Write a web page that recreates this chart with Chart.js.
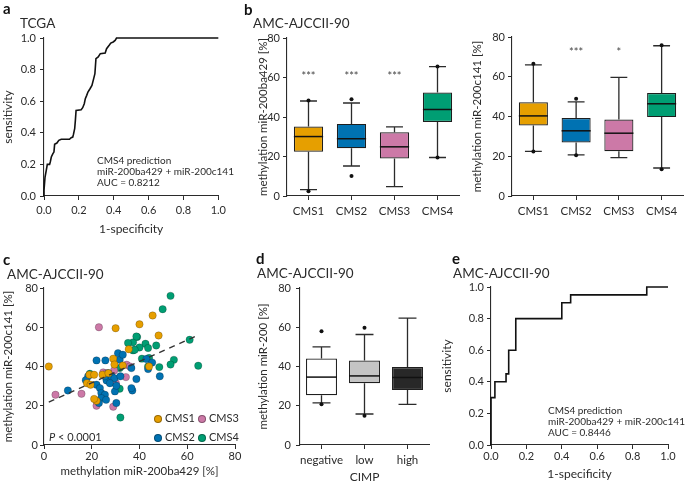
<!DOCTYPE html>
<html>
<head>
<meta charset="utf-8">
<script src="https://cdn.jsdelivr.net/npm/chart.js@4.4.1/dist/chart.umd.min.js"></script>
<style>
  html, body { margin: 0; padding: 0; background: #fff; }
  #fig { position: relative; width: 685px; height: 485px; overflow: hidden;
         font-family: Lato, "DejaVu Sans", sans-serif; color: #2b2b2b; }
  canvas { position: absolute; }
  .t { position: absolute; white-space: nowrap; line-height: 1.2; }
  .lt { font-weight: bold; font-size: 15px; color: #111; }
  .ttl { font-size: 13.5px; }
  .ann { font-size: 10px; line-height: 11px; }
  .leg { font-size: 11px; }
  .dot { display: inline-block; width: 8px; height: 8px; border-radius: 50%;
         margin-right: 3px; vertical-align: -0.5px; box-sizing: border-box; border: 0.6px solid rgba(0,0,0,0.35); }
</style>
</head>
<body>
<div id="fig">
  <canvas id="cA" width="230" height="245" style="left:0;top:0"></canvas>
  <canvas id="cB1" width="230" height="245" style="left:230px;top:0"></canvas>
  <canvas id="cB2" width="225" height="245" style="left:460px;top:0"></canvas>
  <canvas id="cC" width="245" height="240" style="left:0;top:245px"></canvas>
  <canvas id="cD" width="195" height="240" style="left:245px;top:245px"></canvas>
  <canvas id="cE" width="247" height="240" style="left:438px;top:245px"></canvas>

  <div class="t lt" style="left:3px;top:-1px">a</div>
  <div class="t ttl" style="left:20px;top:15px">TCGA</div>
  <div class="t ann" style="left:97px;top:155px">CMS4 prediction<br>miR-200ba429 + miR-200c141<br>AUC = 0.8212</div>

  <div class="t lt" style="left:244px;top:0px">b</div>
  <div class="t ttl" style="left:253px;top:15px">AMC-AJCCII-90</div>

  <div class="t lt" style="left:3px;top:250px">c</div>
  <div class="t ttl" style="left:7px;top:266px">AMC-AJCCII-90</div>
  <div class="t leg" style="left:49px;top:430px"><i>P</i> &lt; 0.0001</div>
  <div class="t leg" style="left:154px;top:411px"><span class="dot" style="background:#E69F00"></span>CMS1</div>
  <div class="t leg" style="left:198px;top:411px"><span class="dot" style="background:#CC79A7"></span>CMS3</div>
  <div class="t leg" style="left:154px;top:430px"><span class="dot" style="background:#0072B2"></span>CMS2</div>
  <div class="t leg" style="left:198px;top:430px"><span class="dot" style="background:#009E73"></span>CMS4</div>

  <div class="t lt" style="left:256px;top:249px">d</div>
  <div class="t ttl" style="left:257px;top:265px">AMC-AJCCII-90</div>

  <div class="t lt" style="left:452px;top:249px">e</div>
  <div class="t ttl" style="left:453px;top:265px">AMC-AJCCII-90</div>
  <div class="t ann" style="left:548px;top:405px">CMS4 prediction<br>miR-200ba429 + miR-200c141<br>AUC = 0.8446</div>
</div>

<script>
// ---- data ----
const rocTicks = [0, 0.2, 0.4, 0.6, 0.8, 1.0];
const pctTicks = [0, 20, 40, 60, 80];

// a: TCGA ROC
const rocTcgaX = [0,0,0.006,0.013,0.019,0.032,0.036,0.042,0.051,0.057,0.061,0.074,0.085,0.099,0.146,0.156,0.165,0.169,0.176,0.18,0.184,0.213,0.222,0.231,0.237,0.245,0.252,0.264,0.275,0.285,0.292,0.298,0.311,0.323,0.351,0.359,0.374,0.383,0.397,0.408,0.416,1];
const rocTcgaY = [0,0.036,0.12,0.162,0.2,0.2,0.215,0.247,0.268,0.278,0.327,0.335,0.352,0.359,0.359,0.369,0.373,0.39,0.426,0.479,0.542,0.546,0.559,0.584,0.616,0.637,0.658,0.679,0.7,0.743,0.774,0.869,0.88,0.901,0.905,0.932,0.954,0.968,0.975,0.985,1,1];

// e: AMC ROC
const rocAmcX = [0,0,0.022,0.022,0.085,0.085,0.10,0.10,0.14,0.14,0.40,0.40,0.45,0.45,0.88,0.88,1.0];
const rocAmcY = [0,0.3,0.3,0.4,0.4,0.45,0.45,0.6,0.6,0.8,0.8,0.9,0.9,0.95,0.95,1.0,1.0];

// b: boxes per CMS
const cmsLabels = ['CMS1', 'CMS2', 'CMS3', 'CMS4'];
const cmsColors = ['#E69F00', '#0072B2', '#CC79A7', '#009E73'];

const ba429Min = [3.2, 15.2, 4.7, 19.5];
const ba429Q1  = [22.4, 24.2, 19.0, 37.5];
const ba429Med = [30.1, 29.0, 24.9, 43.8];
const ba429Q3  = [35.2, 36.5, 32.3, 52.4];
const ba429Max = [48.1, 47.1, 35.0, 65.5];
const ba429Dots = [[48.3, 2.4], [49.0, 10.1], [], [65.6, 19.5]];
const ba429Stars = ['***', '***', '***', ''];

const c141Min = [22.5, 20.7, 19.3, 14.1];
const c141Q1  = [35.5, 26.9, 22.5, 39.7];
const c141Med = [40.3, 32.8, 31.6, 46.4];
const c141Q3  = [47.2, 39.2, 38.5, 51.8];
const c141Max = [66.0, 47.4, 59.7, 75.6];
const c141Dots = [[66.5, 22.4], [48.9, 20.5], [], [75.8, 13.4]];
const c141Stars = ['', '***', '*', ''];

// d: boxes per CIMP status
const cimpLabels = ['negative', 'low', 'high'];
const cimpColors = ['#ffffff', '#c4c4c4', '#282828'];
const cimpMin = [21.5, 15.8, 20.7];
const cimpQ1  = [25.4, 31.5, 28.0];
const cimpMed = [34.6, 35.2, 34.4];
const cimpQ3  = [44.1, 43.0, 39.7];
const cimpMax = [50.0, 56.3, 64.6];
const cimpDots = [[58.0, 20.8], [59.7, 14.9], []];

// c: scatter [miR-200ba429, miR-200c141]
const cms1Pts = [[2,40],[30,59.5],[40,61.5],[45.5,66],[48,55.8],[35.5,48.8],[29,44],[29.5,41],[33,40.5],[19,35.8],[21,35.8],[24.5,35.8],[27,36.6],[18,31.5],[19.5,30.7],[22,22.5],[21,23.5],[44,40]];
const cms2Pts = [[10,27.8],[22,43.1],[25.7,43.1],[31,46.8],[31.7,43.4],[18.5,35],[22,30.7],[23.4,29],[24,26.5],[25.5,25.6],[24,23.9],[26,23],[23,21.4],[30.3,21.4],[26.2,32.9],[25.5,35],[27,36.6],[28.3,35],[29.5,34],[27.6,31.5],[29.7,27.3],[30.3,30.2],[32,35],[36.6,39.2],[37,27.8],[36.6,29],[38.7,33.6],[43.6,38.7],[42.9,43.8],[45.3,42],[48.5,35],[33,46],[17.5,33]];
const cms3Pts = [[23,60],[4.8,25.6],[15.7,26.1],[22,20],[29,19.5],[30.1,31.5],[34.3,34.6],[34.6,40.9],[24.8,37],[26.2,36.6],[29.4,38],[36,40]];
const cms4Pts = [[53,76],[49.7,69.2],[39,55],[37.3,52.3],[42.5,51.6],[43.6,49.4],[40,49.7],[37.3,48.2],[47,50.7],[61,53.6],[54.4,43.4],[53,41],[64.6,40.4],[48.3,39.7],[43.6,40],[44,44.3],[35.2,52],[38.7,55.3],[38,48.5],[19.2,36.3],[31.7,28.7],[31.7,39.2],[32,14],[41,44]];
const trendX = [2, 65];
const trendY = [21.9, 56.2];

// ---- shared styling ----
const FONT = 'Lato, "DejaVu Sans", sans-serif';
const INK = '#2b2b2b';

Chart.defaults.font.family = FONT;
Chart.defaults.color = INK;

function linAxis(pos, size, ticksArr, fmt, tickPad, title, titleSize, titlePad) {
  return {
    type: 'linear', position: pos,
    min: ticksArr[0], max: ticksArr[ticksArr.length - 1],
    afterFit: (s) => { if (pos === 'left') s.width = size; else s.height = size; },
    afterBuildTicks: (s) => { s.ticks = ticksArr.map(v => ({ value: v })); },
    ticks: { padding: tickPad, color: INK, font: { size: 11 }, callback: fmt, maxRotation: 0 },
    grid: { drawOnChartArea: false, drawTicks: true, tickLength: 4, color: INK, lineWidth: 1 },
    border: { display: true, color: INK, width: 1.1 },
    title: { display: true, text: title, color: INK, font: { size: titleSize }, padding: titlePad }
  };
}

function catAxis(size, tickPad, title, titlePad) {
  return {
    type: 'category', position: 'bottom', offset: true,
    afterFit: (s) => { s.height = size; },
    ticks: { padding: tickPad, color: INK, font: { size: 11.5 }, maxRotation: 0, autoSkip: false },
    grid: { offset: false, drawOnChartArea: false, drawTicks: true, tickLength: 4, color: INK, lineWidth: 1 },
    border: { display: true, color: INK, width: 1.1 },
    title: title
      ? { display: true, text: title, color: INK, font: { size: 12 }, padding: titlePad }
      : { display: false }
  };
}

const fmt1 = (v) => Number(v).toFixed(1);
const fmt0 = (v) => String(v);

function baseOpts(padding, scales) {
  return {
    responsive: false, animation: false, events: [],
    layout: { padding, autoPadding: true },
    plugins: { legend: { display: false }, tooltip: { enabled: false } },
    scales
  };
}

// whiskers, medians, outlier dots and stars for the box panels
function boxLayer(st) {
  return {
    id: 'boxLayer',
    beforeDatasetsDraw(chart) {
      const { ctx } = chart;
      const y = chart.scales.y;
      const bars = chart.getDatasetMeta(0).data;
      ctx.save();
      ctx.strokeStyle = INK;
      ctx.lineWidth = 1.3;
      bars.forEach((b, i) => {
        const cw = b.width * 0.29;
        const yMax = y.getPixelForValue(st.max[i]);
        const yMin = y.getPixelForValue(st.min[i]);
        const yQ3 = y.getPixelForValue(st.q3[i]);
        const yQ1 = y.getPixelForValue(st.q1[i]);
        ctx.beginPath();
        ctx.moveTo(b.x, yQ3); ctx.lineTo(b.x, yMax);
        ctx.moveTo(b.x - cw, yMax); ctx.lineTo(b.x + cw, yMax);
        ctx.moveTo(b.x, yQ1); ctx.lineTo(b.x, yMin);
        ctx.moveTo(b.x - cw, yMin); ctx.lineTo(b.x + cw, yMin);
        ctx.stroke();
      });
      ctx.restore();
    },
    afterDatasetsDraw(chart) {
      const { ctx } = chart;
      const y = chart.scales.y;
      const bars = chart.getDatasetMeta(0).data;
      ctx.save();
      bars.forEach((b, i) => {
        const ym = y.getPixelForValue(st.med[i]);
        ctx.strokeStyle = '#111';
        ctx.lineWidth = 1.5;
        ctx.beginPath();
        ctx.moveTo(b.x - b.width / 2, ym); ctx.lineTo(b.x + b.width / 2, ym);
        ctx.stroke();
        ctx.fillStyle = '#111';
        (st.dots[i] || []).forEach((v) => {
          ctx.beginPath();
          ctx.arc(b.x, y.getPixelForValue(v), 2, 0, Math.PI * 2);
          ctx.fill();
        });
        if (st.stars && st.stars[i]) {
          ctx.fillStyle = '#444';
          ctx.font = '11px ' + FONT;
          ctx.textAlign = 'center';
          ctx.textBaseline = 'middle';
          ctx.fillText(st.stars[i], b.x, y.getPixelForValue(st.starAt) + 3);
        }
      });
      ctx.restore();
    }
  };
}

function boxChart(id, labels, colors, q1, q3, barPct, padding, scales, st) {
  return new Chart(document.getElementById(id), {
    type: 'bar',
    data: {
      labels,
      datasets: [{
        data: labels.map((_, i) => [q1[i], q3[i]]),
        backgroundColor: colors,
        borderColor: '#1e1e1e',
        borderWidth: 1.2,
        borderSkipped: false,
        barPercentage: barPct,
        categoryPercentage: 1
      }]
    },
    options: baseOpts(padding, scales),
    plugins: [boxLayer(st)]
  });
}

function rocChart(id, xs, ys, padding, scales) {
  return new Chart(document.getElementById(id), {
    type: 'scatter',
    data: {
      datasets: [{
        data: xs.map((x, i) => ({ x, y: ys[i] })),
        showLine: true,
        borderColor: '#111',
        borderWidth: 1.6,
        pointRadius: 0,
        tension: 0,
        clip: false
      }]
    },
    options: baseOpts(padding, scales)
  });
}

// a
rocChart('cA', rocTcgaX, rocTcgaY,
  { top: 38, right: 10, left: 0, bottom: 0 },
  {
    x: linAxis('bottom', 49, rocTicks, fmt1, 4, '1-specificity', 12, { bottom: 9 }),
    y: linAxis('left', 44, rocTicks, fmt1, 4, 'sensitivity', 12, { top: 1 })
  });

// b left
boxChart('cB1', cmsLabels, cmsColors, ba429Q1, ba429Q3, 0.68,
  { top: 38, right: 1, left: 0, bottom: 0 },
  {
    x: catAxis(49, 4),
    y: linAxis('left', 57, pctTicks, fmt0, 3, 'methylation miR-200ba429 [%]', 11.5, { top: 26 })
  },
  { min: ba429Min, q1: ba429Q1, med: ba429Med, q3: ba429Q3, max: ba429Max, dots: ba429Dots, stars: ba429Stars, starAt: 62.3 });

// b right
boxChart('cB2', cmsLabels, cmsColors, c141Q1, c141Q3, 0.68,
  { top: 37, right: 2, left: 0, bottom: 0 },
  {
    x: catAxis(49, 4),
    y: linAxis('left', 52, pctTicks, fmt0, 3, 'methylation miR-200c141 [%]', 11.5, { top: 10 })
  },
  { min: c141Min, q1: c141Q1, med: c141Med, q3: c141Q3, max: c141Max, dots: c141Dots, stars: c141Stars, starAt: 73.8 });

// c
new Chart(document.getElementById('cC'), {
  type: 'scatter',
  data: {
    datasets: [
      { data: trendX.map((x, i) => ({ x, y: trendY[i] })), showLine: true, borderColor: '#333',
        borderWidth: 1.4, borderDash: [6, 5], pointRadius: 0, order: 0 },
      ...[cms1Pts, cms2Pts, cms3Pts, cms4Pts].map((pts, k) => ({
        data: pts.map(p => ({ x: p[0], y: p[1] })),
        backgroundColor: cmsColors[k],
        borderColor: 'rgba(0,0,0,0.35)',
        borderWidth: 0.6,
        pointRadius: 3.7,
        order: 1
      }))
    ]
  },
  options: baseOpts({ top: 43, right: 10, left: 0, bottom: 0 }, {
    x: linAxis('bottom', 40, pctTicks, fmt0, 1, 'methylation miR-200ba429 [%]', 11.5, { bottom: 7 }),
    y: linAxis('left', 44, pctTicks, fmt0, 2, 'methylation miR-200c141 [%]', 11.5, { top: 1 })
  })
});

// d
boxChart('cD', cimpLabels, cimpColors, cimpQ1, cimpQ3, 0.72,
  { top: 43, right: 11, left: 0, bottom: 0 },
  {
    x: catAxis(40, 4, 'CIMP', { bottom: 1 }),
    y: linAxis('left', 55, pctTicks, fmt0, 5, 'methylation miR-200 [%]', 11.5, { top: 11 })
  },
  { min: cimpMin, q1: cimpQ1, med: cimpMed, q3: cimpQ3, max: cimpMax, dots: cimpDots });

// e
rocChart('cE', rocAmcX, rocAmcY,
  { top: 42, right: 17, left: 0, bottom: 0 },
  {
    x: linAxis('bottom', 40, rocTicks, fmt1, 1, '1-specificity', 12, { bottom: 4 }),
    y: linAxis('left', 53, rocTicks, fmt1, 3, 'sensitivity', 12, { top: 2 })
  });
</script>
</body>
</html>
